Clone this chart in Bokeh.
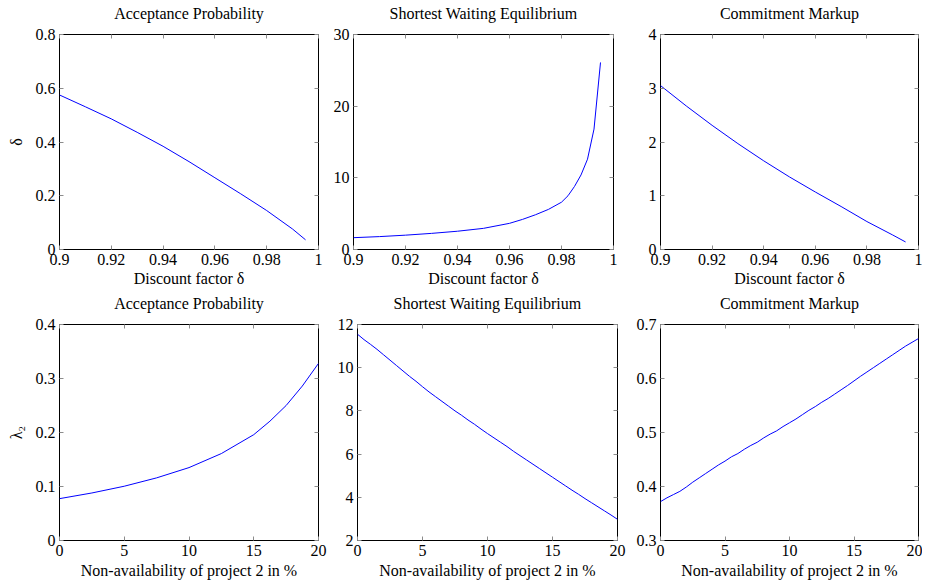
from bokeh.plotting import figure
from bokeh.models import (Range1d, FixedTicker, LinearAxis, NumeralTickFormatter,
                          CustomLabelingPolicy)
from bokeh.layouts import column, row
from bokeh.embed import file_html
from bokeh.resources import INLINE

# ---------------- data ----------------
delta_acc = [0.9, 0.91, 0.92, 0.93, 0.94, 0.95, 0.96, 0.97, 0.98, 0.99, 0.995]
acc_vs_delta = [0.575, 0.531, 0.486, 0.436, 0.384, 0.327, 0.267, 0.207, 0.145, 0.076, 0.036]

delta_wait = [0.9, 0.91, 0.92, 0.93, 0.94, 0.95, 0.96, 0.965, 0.97, 0.975, 0.98,
              0.9825, 0.985, 0.9875, 0.99, 0.9925, 0.995]
wait_vs_delta = [1.65, 1.8, 2.0, 2.25, 2.55, 2.95, 3.65, 4.2, 4.85, 5.6, 6.6,
                 7.5, 8.8, 10.4, 12.6, 16.8, 26.1]

delta_mark = [0.9, 0.91, 0.92, 0.93, 0.94, 0.95, 0.96, 0.97, 0.98, 0.99, 0.995]
mark_vs_delta = [3.05, 2.67, 2.31, 1.97, 1.65, 1.35, 1.07, 0.80, 0.52, 0.27, 0.14]

pct_acc = [0, 2.5, 5, 7.5, 10, 12.5, 15, 16.25, 17.5, 18.75, 20]
acc_vs_pct = [0.0775, 0.088, 0.1005, 0.116, 0.135, 0.161, 0.196, 0.221, 0.25, 0.286, 0.328]

pct = [0, 0.5, 1, 1.5, 2, 2.5, 3, 3.5, 4, 4.5, 5, 5.5, 6, 6.5, 7, 7.5, 8, 8.5, 9, 9.5,
       10, 10.5, 11, 11.5, 12, 12.5, 13, 13.5, 14, 14.5, 15, 15.5, 16, 16.5, 17, 17.5,
       18, 18.5, 19, 19.5, 20]
wait_vs_pct = [11.55, 11.3, 11.08, 10.85, 10.6, 10.35, 10.1, 9.85, 9.6, 9.37, 9.12,
               8.88, 8.66, 8.44, 8.22, 8.0, 7.8, 7.58, 7.38, 7.16, 6.95, 6.75, 6.55,
               6.35, 6.13, 5.93, 5.73, 5.53, 5.33, 5.13, 4.93, 4.73, 4.53, 4.33,
               4.14, 3.94, 3.75, 3.56, 3.37, 3.18, 2.98]
mark_vs_pct = [0.372, 0.379, 0.385, 0.391, 0.399, 0.408, 0.416, 0.424, 0.432, 0.44, 0.447,
               0.455, 0.461, 0.469, 0.476, 0.482, 0.49, 0.497, 0.503, 0.511, 0.518,
               0.525, 0.533, 0.541, 0.548, 0.556, 0.563, 0.571, 0.579, 0.587, 0.5955,
               0.604, 0.612, 0.62, 0.628, 0.636, 0.644, 0.652, 0.66, 0.667, 0.674]

delta_ticks = [0.9, 0.92, 0.94, 0.96, 0.98, 1.0]
pct_ticks = [0, 5, 10, 15, 20]
titles = ["Acceptance Probability", "Shortest Waiting Equilibrium", "Commitment Markup"]
xlabel_top = "Discount factor δ"
xlabel_bottom = "Non-availability of project 2 in %"

FONT = "Liberation Serif"
FS = "16px"
TICKC = "#8c8c8c"

NO_LABELS = "for (const i of indices) { indices.unset(i) }\nreturn indices"


def make_fig(x, y, xr, yr, xticks, yticks, title, xlabel, ylabel,
             bl, br, bt, bb, fw, fh, xls):
    p = figure(width=bl + fw + br, height=bt + fh + bb,
               x_range=Range1d(*xr), y_range=Range1d(*yr),
               output_backend="svg", toolbar_location=None,
               min_border_left=bl, min_border_right=br,
               min_border_top=bt, min_border_bottom=bb)
    p.grid.visible = False
    p.outline_line_color = "black"
    p.outline_line_width = 1
    p.outline_line_alpha = 1
    p.background_fill_color = "white"
    p.border_fill_color = "white"

    for ax, ticks in ((p.xaxis[0], xticks), (p.yaxis[0], yticks)):
        ax.ticker = FixedTicker(ticks=ticks)
        ax.formatter = NumeralTickFormatter(format="0.[00]")
        ax.major_tick_in = 4
        ax.major_tick_out = 0
        ax.major_tick_line_color = TICKC
        ax.minor_tick_line_color = None
        ax.axis_line_color = None
        ax.major_label_text_font = FONT
        ax.major_label_text_font_size = FS
        ax.major_label_text_color = "black"
        ax.major_label_standoff = 4
        ax.axis_label_text_font = FONT
        ax.axis_label_text_font_size = FS
        ax.axis_label_text_font_style = "normal"
        ax.axis_label_text_color = "black"
    p.xaxis[0].axis_label = xlabel
    p.xaxis[0].axis_label_standoff = xls
    if ylabel:
        p.yaxis[0].axis_label = ylabel
        p.yaxis[0].axis_label_standoff = 8

    for loc, ticks in (("above", xticks), ("right", yticks)):
        a = LinearAxis(ticker=FixedTicker(ticks=ticks), major_tick_in=4, major_tick_out=0,
                       major_tick_line_color=TICKC, minor_tick_line_color=None,
                       axis_line_color=None, major_label_standoff=0,
                       major_label_text_font_size="1px",
                       major_label_policy=CustomLabelingPolicy(code=NO_LABELS))
        if loc == "above":
            a.axis_label = title
            a.axis_label_standoff = 9
            a.axis_label_text_font = FONT
            a.axis_label_text_font_size = FS
            a.axis_label_text_font_style = "normal"
            a.axis_label_text_color = "black"
        p.add_layout(a, loc)

    p.line(x, y, line_color="#0000ff", line_width=1.0)
    return p


TB = dict(bt=34, bb=41, fh=215, xls=2)
BB = dict(bt=34, bb=42, fh=216, xls=3)

f1 = make_fig(delta_acc, acc_vs_delta, (0.9, 1.0), (0, 0.8), delta_ticks,
              [0, 0.2, 0.4, 0.6, 0.8], titles[0], xlabel_top, "δ",
              bl=59, br=10, fw=259, **TB)
f2 = make_fig(delta_wait, wait_vs_delta, (0.9, 1.0), (0, 30), delta_ticks,
              [0, 10, 20, 30], titles[1], xlabel_top, None,
              bl=25, br=17, fw=260, **TB)
f3 = make_fig(delta_mark, mark_vs_delta, (0.9, 1.0), (0, 4), delta_ticks,
              [0, 1, 2, 3, 4], titles[2], xlabel_top, None,
              bl=30, br=4, fw=258, **TB)
f4 = make_fig(pct_acc, acc_vs_pct, (0, 20), (0, 0.4), pct_ticks,
              [0, 0.1, 0.2, 0.3, 0.4], titles[0], xlabel_bottom, "λ₂",
              bl=59, br=10, fw=259, **BB)
f5 = make_fig(pct, wait_vs_pct, (0, 20), (2, 12), pct_ticks,
              [2, 4, 6, 8, 10, 12], titles[1], xlabel_bottom, None,
              bl=29, br=13, fw=260, **BB)
f6 = make_fig(pct, mark_vs_pct, (0, 20), (0.3, 0.7), pct_ticks,
              [0.3, 0.4, 0.5, 0.6, 0.7], titles[2], xlabel_bottom, None,
              bl=30, br=4, fw=258, **BB)

layout = column(row(f1, f2, f3), row(f4, f5, f6))
open("out.html", "w").write(file_html(layout, INLINE))
